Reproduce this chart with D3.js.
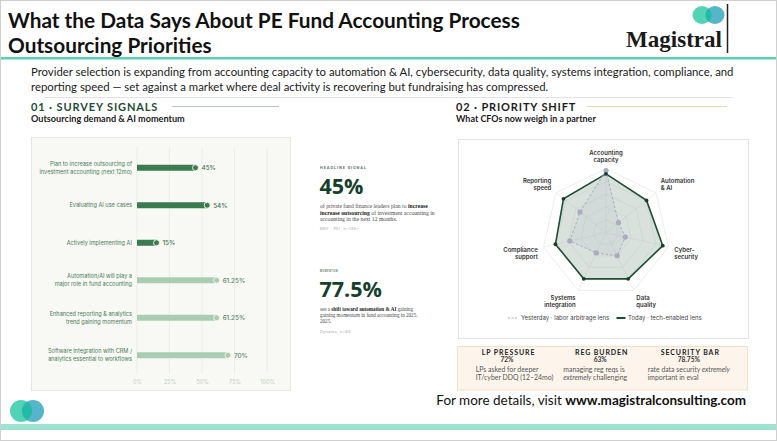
<!DOCTYPE html>
<html><head><meta charset="utf-8">
<script src="https://cdn.jsdelivr.net/npm/d3@7"></script>
<style>html,body{margin:0;padding:0;background:#fff;} svg{display:block;}</style>
</head><body><svg id="c" width="777" height="441"></svg>
<script>
// ---------------- DATA ----------------
const titleLines = ["What the Data Says About PE Fund Accounting Process", "Outsourcing Priorities"];
const subtitleLines = [
  "Provider selection is expanding from accounting capacity to automation & AI, cybersecurity, data quality, systems integration, compliance, and",
  "reporting speed \u2014 set against a market where deal activity is recovering but fundraising has compressed."
];
const section1 = ["01 \u00b7 SURVEY SIGNALS", "Outsourcing demand & AI momentum"];
const section2 = ["02 \u00b7 PRIORITY SHIFT", "What CFOs now weigh in a partner"];

const barCategories = [
  "Plan to increase outsourcing of investment accounting (next 12mo)",
  "Evaluating AI use cases",
  "Actively implementing AI",
  "Automation/AI will play a major role in fund accounting",
  "Enhanced reporting & analytics trend gaining momentum",
  "Software integration with CRM / analytics essential to workflows"
];
const barLabelLines = [
  ["Plan to increase outsourcing of", "investment accounting (next 12mo)"],
  ["Evaluating AI use cases"],
  ["Actively implementing AI"],
  ["Automation/AI will play a", "major role in fund accounting"],
  ["Enhanced reporting & analytics", "trend gaining momentum"],
  ["Software integration with CRM /", "analytics essential to workflows"]
];
const barValues = [45, 54, 15, 61.25, 61.25, 70];
const barValueLabels = ["45%", "54%", "15%", "61.25%", "61.25%", "70%"];
const barGroup = ["current", "current", "current", "trend", "trend", "trend"];
const axisTicks = [0, 25, 50, 75, 100];

const kpiKickers = ["HEADLINE SIGNAL", "MOMENTUM"];
const kpiValues = ["45%", "77.5%"];
const kpiSources = ["BNY \u00b7 PEI, n=130+", "Dynamo, n=80"];

const radarAxes = [
  ["Accounting", "capacity"], ["Automation", "& AI"], ["Cyber-", "security"],
  ["Data", "quality"], ["Systems", "integration"], ["Compliance", "support"], ["Reporting", "speed"]
];
const radarYesterday = [97, 25, 31, 40, 35, 58, 52];
const radarToday = [92, 81, 91, 80, 80, 81, 85];
const radarSeriesNames = ["Yesterday \u00b7 labor arbitrage lens", "Today \u00b7 tech-enabled lens"];

const statTitles = ["LP PRESSURE", "REG BURDEN", "SECURITY BAR"];
const statValues = ["72%", "63%", "78.75%"];
const statNotes = [
  [["LPs asked for deeper"], ["IT/cyber DDQ (12\u201324mo)"]],
  [["managing reg reqs is"], ["|extremely| challenging"]],
  [["rate data security |extremely|"], ["important in eval"]]
];
const footerText = ["For more details, visit ", "www.magistralconsulting.com"];

// ---------------- SETUP ----------------
const CAL = "Lato, 'Open Sans', sans-serif";
const INTER = "Inter, 'Noto Sans', sans-serif";
const SERIF = "'Liberation Serif', 'DejaVu Serif', serif";
const HEAD = "'Open Sans', Lato, sans-serif";
const svg = d3.select("#c");

function fit(sel, target) {
  const w = sel.node().getComputedTextLength();
  const fs = parseFloat(sel.attr("font-size"));
  return fs * target / w;
}

// page frame
svg.append("rect").attr("x", 0.5).attr("y", 0.5).attr("width", 776).attr("height", 440)
  .attr("fill", "#fff").attr("stroke", "#cfcfcf");

// title
const tl = svg.selectAll(".title").data(titleLines).join("text")
  .attr("x", 8).attr("y", (d, i) => 28 + i * 24.5)
  .attr("font-family", CAL).attr("font-weight", 700).attr("font-size", 22).attr("fill", "#111")
  .text(d => d);
tl.attr("font-size", fit(d3.select(tl.nodes()[0]), 512));

// logo
const defs = svg.append("defs");
defs.append("clipPath").attr("id", "blueClip").append("ellipse").attr("cx", 715).attr("cy", 15).attr("rx", 9.5).attr("ry", 9);
defs.append("clipPath").attr("id", "blueClip2").append("ellipse").attr("cx", 33).attr("cy", 411).attr("rx", 11).attr("ry", 11);
function logo(cx1, cx2, cy, rx, ry, clip) {
  svg.append("ellipse").attr("cx", cx1).attr("cy", cy).attr("rx", rx).attr("ry", ry).attr("fill", "#52d3b6");
  svg.append("ellipse").attr("cx", cx2).attr("cy", cy).attr("rx", rx).attr("ry", ry).attr("fill", "#55b5c9");
  svg.append("ellipse").attr("cx", cx1).attr("cy", cy).attr("rx", rx).attr("ry", ry).attr("fill", "#22bca6").attr("clip-path", `url(#${clip})`);
}
logo(702, 715, 15, 9.5, 9, "blueClip");
const mg = svg.append("text").attr("x", 626).attr("y", 47).attr("font-family", SERIF)
  .attr("font-weight", 700).attr("font-size", 22).attr("fill", "#1a1a1a").text("Magistral");
mg.attr("font-size", fit(mg, 96));
svg.append("line").attr("x1", 727.5).attr("x2", 727.5).attr("y1", 4).attr("y2", 53).attr("stroke", "#222").attr("stroke-width", 1.5);
svg.append("rect").attr("x", 1).attr("y", 57).attr("width", 775).attr("height", 2.5).attr("fill", "#5ccfb3");

// subtitle
const sl = svg.selectAll(".sub").data(subtitleLines).join("text")
  .attr("x", 31).attr("y", (d, i) => 75.5 + i * 15)
  .attr("font-family", CAL).attr("font-size", 12).attr("fill", "#1a1a1a").text(d => d);
sl.attr("font-size", fit(d3.select(sl.nodes()[0]), 703));
svg.append("line").attr("x1", 45).attr("x2", 733).attr("y1", 97.5).attr("y2", 97.5).attr("stroke", "#e2e2e2");

// section headers
function sectionHeader(x, texts, lineX1, lineX2, lineColor, color, w1, w2) {
  const h = svg.append("text").attr("x", x).attr("y", 110.5).attr("font-family", CAL).attr("font-weight", 700)
    .attr("font-size", 11).attr("letter-spacing", 1.6).attr("fill", color).text(texts[0]);
  h.attr("textLength", w1).attr("lengthAdjust", "spacing");
  svg.append("line").attr("x1", lineX1).attr("x2", lineX2).attr("y1", 106.5).attr("y2", 106.5).attr("stroke", lineColor).attr("stroke-width", 1);
  const s = svg.append("text").attr("x", x).attr("y", 121.5).attr("font-family", CAL).attr("font-weight", 700)
    .attr("font-size", 9).attr("fill", "#1b1b1b").text(texts[1]);
  s.attr("font-size", fit(s, w2));
}
sectionHeader(31, section1, 172, 279, "#b9c6bd", "#1f4a35", 128, 154);
sectionHeader(456, section2, 587, 727, "#ead7ab", "#1c1c1c", 121, 140);

// ---------------- LEFT: BAR CHART ----------------
svg.append("rect").attr("x", 31.5).attr("y", 137.5).attr("width", 259).attr("height", 253)
  .attr("fill", "#f8f8f4").attr("stroke", "#e7e7dd");
const x = d3.scaleLinear().domain([0, 100]).range([137, 267]);
const y = d3.scaleBand().domain(barCategories).range([149, 374]);
const yc = c => y(c) + y.bandwidth() / 2;

const grid = svg.append("g");
grid.selectAll("line").data(axisTicks).join("line")
  .attr("x1", d => x(d)).attr("x2", d => x(d)).attr("y1", 147).attr("y2", 374)
  .attr("stroke", "#ebebe3").attr("stroke-width", 0.8);

const axisG = svg.append("g").attr("transform", "translate(0,374)")
  .call(d3.axisBottom(x).tickValues(axisTicks).tickFormat(d => d + "%").tickSize(0).tickPadding(6));
axisG.select(".domain").remove();
axisG.selectAll("text").attr("font-family", INTER).attr("font-size", 5.5).attr("fill", "#c3cdc4");

const bars = svg.append("g").selectAll("g").data(barCategories).join("g");
bars.append("rect")
  .attr("x", x(0)).attr("y", c => yc(c) - 3)
  .attr("width", (c, i) => x(barValues[i]) - x(0)).attr("height", 6)
  .attr("fill", (c, i) => barGroup[i] === "current" ? "#3b7b50" : "#a9cdb1");
bars.append("circle")
  .attr("cx", (c, i) => x(barValues[i])).attr("cy", c => yc(c)).attr("r", 3)
  .attr("fill", (c, i) => barGroup[i] === "current" ? "#3b7b50" : "#a9cdb1")
  .attr("stroke", "#f8f8f4").attr("stroke-width", 0.9);
bars.append("text")
  .attr("x", (c, i) => x(barValues[i]) + 6).attr("y", c => yc(c) + 2.3)
  .attr("font-family", INTER).attr("font-weight", 500).attr("font-size", 6.3)
  .attr("fill", (c, i) => barGroup[i] === "current" ? "#3b7350" : "#55856a")
  .text((c, i) => barValueLabels[i]);
bars.each(function (c, i) {
  const lines = barLabelLines[i];
  const n = lines.length;
  d3.select(this).selectAll(".lab").data(lines).join("text")
    .attr("x", 132).attr("y", (d, j) => yc(c) + 2 + (j - (n - 1) / 2) * 8)
    .attr("text-anchor", "end").attr("font-family", INTER).attr("font-size", 5.6)
    .attr("fill", "#4a7c59").text(d => d);
});

// ---------------- MIDDLE: KPIs ----------------
function kpi(top, idx, bodyLines, firstW) {
  const k = svg.append("text").attr("x", 320).attr("y", top).attr("font-family", INTER).attr("font-weight", 700)
    .attr("font-size", 4).attr("letter-spacing", 1).attr("fill", "#66756b").text(kpiKickers[idx]);
  k.attr("textLength", idx === 0 ? 47 : 18).attr("lengthAdjust", "spacingAndGlyphs");
  svg.append("text").attr("x", 319.5).attr("y", top + 25).attr("font-family", HEAD).attr("font-weight", 700)
    .attr("font-size", 21.5).attr("fill", "#163f2c").text(kpiValues[idx]);
  const texts = [];
  bodyLines.forEach((parts, j) => {
    const t = svg.append("text").attr("x", 320).attr("y", top + 39 + j * 6.2).attr("font-family", SERIF)
      .attr("font-size", 5.5).attr("fill", "#4a4a4a");
    parts.forEach(p => {
      const bold = p.startsWith("*");
      t.append("tspan").attr("font-weight", bold ? 700 : 400).attr("fill", bold ? "#1a1a1a" : "#4a4a4a")
        .text(bold ? p.slice(1) : p);
    });
    texts.push(t.node());
  });
  const ratio = firstW / texts[0].getComputedTextLength();
  texts.forEach(n => n.setAttribute("font-size", 5.5 * ratio));
  svg.append("text").attr("x", 320).attr("y", top + 39 + bodyLines.length * 6.2 + 3.5).attr("font-family", INTER)
    .attr("font-size", 3.6).attr("letter-spacing", 0.5).attr("fill", "#9a9a9a").text(kpiSources[idx]);
}
kpi(169.3, 0, [
  ["of private fund finance leaders plan to ", "*increase"],
  ["*increase outsourcing", " of investment accounting in"],
  ["accounting in the next 12 months."]
], 108);
kpi(272, 1, [
  ["see a ", "*shift toward automation & AI", " gaining"],
  ["gaining momentum in fund accounting in 2025."],
  ["2025."]
], 93);

// ---------------- RIGHT: RADAR ----------------
svg.append("rect").attr("x", 458.5).attr("y", 139.5).attr("width", 290).attr("height", 199)
  .attr("fill", "#fff").attr("stroke", "#e4e4e4");
const cx = 606, cy = 232.7;
const r = d3.scaleLinear().domain([0, 100]).range([0, 64]);
const nAx = radarAxes.length;
const ang = i => i * 2 * Math.PI / nAx;
const levels = [20, 40, 60, 80, 100];
const rg = svg.append("g").attr("transform", `translate(${cx},${cy})`);
const ringLine = d3.lineRadial().angle((d, i) => ang(i)).radius(d => r(d)).curve(d3.curveLinearClosed);
rg.selectAll(".ring").data(levels).join("path")
  .attr("d", lv => ringLine(radarAxes.map(() => lv)))
  .attr("fill", "none").attr("stroke", "#e9e9e9").attr("stroke-width", 0.8);
rg.selectAll(".spoke").data(radarAxes).join("line")
  .attr("x1", 0).attr("y1", 0)
  .attr("x2", (d, i) => r(100) * Math.sin(ang(i))).attr("y2", (d, i) => -r(100) * Math.cos(ang(i)))
  .attr("stroke", "#e9e9e9").attr("stroke-width", 0.8);

const valLine = d3.lineRadial().angle((d, i) => ang(i)).radius(d => r(d)).curve(d3.curveLinearClosed);
rg.append("path").attr("d", valLine(radarToday))
  .attr("fill", "#a9bdb1").attr("fill-opacity", 0.45).attr("stroke", "#1e4d35").attr("stroke-width", 1.6);
rg.append("path").attr("d", valLine(radarYesterday))
  .attr("fill", "#b9bccb").attr("fill-opacity", 0.18).attr("stroke", "#a3a6ba").attr("stroke-width", 0.9)
  .attr("stroke-dasharray", "2.5,2");
rg.selectAll(".yd").data(radarYesterday).join("circle")
  .attr("cx", (d, i) => r(d) * Math.sin(ang(i))).attr("cy", (d, i) => -r(d) * Math.cos(ang(i)))
  .attr("r", 2.6).attr("fill", "#a9abc0");
rg.selectAll(".td").data(radarToday).join("circle")
  .attr("cx", (d, i) => r(d) * Math.sin(ang(i))).attr("cy", (d, i) => -r(d) * Math.cos(ang(i)))
  .attr("r", 1.9).attr("fill", "#173f2b");

radarAxes.forEach((lines, i) => {
  const a = ang(i), s = Math.sin(a), c = Math.cos(a);
  const px = 70 * s, py = -70 * c;
  const anchor = Math.abs(s) < 0.1 ? "middle" : (s > 0 ? "start" : "end");
  const blockC = py + (c > 0 ? -4.3 : 5.5) - (i === 0 ? 1.5 : 0);
  rg.append("text").attr("font-family", INTER).attr("font-weight", 600).attr("font-size", 6)
    .attr("fill", "#333").attr("text-anchor", anchor)
    .selectAll("tspan").data(lines).join("tspan")
    .attr("x", px).attr("y", (d, j) => blockC - 1.5 + j * 7).text(d => d);
});

// legend
const lg = svg.append("g");
lg.append("line").attr("x1", 508).attr("x2", 518).attr("y1", 318).attr("y2", 318)
  .attr("stroke", "#a3a6ba").attr("stroke-width", 1).attr("stroke-dasharray", "2,1.5");
lg.append("text").attr("x", 521).attr("y", 320.2).attr("font-family", INTER).attr("font-size", 6)
  .attr("fill", "#444").text(radarSeriesNames[0]);
lg.append("line").attr("x1", 616.5).attr("x2", 625.5).attr("y1", 318).attr("y2", 318)
  .attr("stroke", "#1e4d35").attr("stroke-width", 2);
lg.append("text").attr("x", 628).attr("y", 320.2).attr("font-family", INTER).attr("font-size", 6)
  .attr("fill", "#444").text(radarSeriesNames[1]);

// stat cards
svg.append("rect").attr("x", 457.5).attr("y", 346.5).attr("width", 290).attr("height", 43.5)
  .attr("fill", "#fdf5ec").attr("stroke", "#f1dfc6");
const statCenters = [508.5, 601.7, 690.3];
const statNoteX = [475.7, 563.3, 647.7];
statTitles.forEach((t, i) => {
  svg.append("text").attr("x", statCenters[i]).attr("y", 354.5).attr("text-anchor", "middle")
    .attr("font-family", CAL).attr("font-weight", 700).attr("font-size", 7).attr("letter-spacing", 0.9)
    .attr("fill", "#222").text(t);
  svg.append("text").attr("x", statCenters[i] - 1.5).attr("y", 362.3).attr("text-anchor", "middle")
    .attr("font-family", CAL).attr("font-weight", 700).attr("font-size", 6.6).attr("fill", "#333").text(statValues[i]);
  statNotes[i].forEach((ln, j) => {
    const te = svg.append("text").attr("x", statNoteX[i]).attr("y", 371.5 + j * 8.3)
      .attr("font-family", CAL).attr("font-size", 6.9).attr("fill", "#555");
    ln[0].split("|").forEach((p, k) => {
      if (p) te.append("tspan").attr("font-style", k % 2 ? "italic" : "normal").text(p);
    });
  });
});

// footer
const ft = svg.append("text").attr("x", 746).attr("y", 405).attr("text-anchor", "end")
  .attr("font-family", CAL).attr("font-size", 13).attr("fill", "#111");
ft.append("tspan").text(footerText[0]);
ft.append("tspan").attr("font-weight", 700).text(footerText[1]);
ft.attr("font-size", 13 * 310 / ft.node().getComputedTextLength());

logo(21, 33, 411, 11, 11, "blueClip2");
svg.append("rect").attr("x", 1).attr("y", 424).attr("width", 775).attr("height", 6).attr("fill", "#9de3d0");
</script>
</body></html>
